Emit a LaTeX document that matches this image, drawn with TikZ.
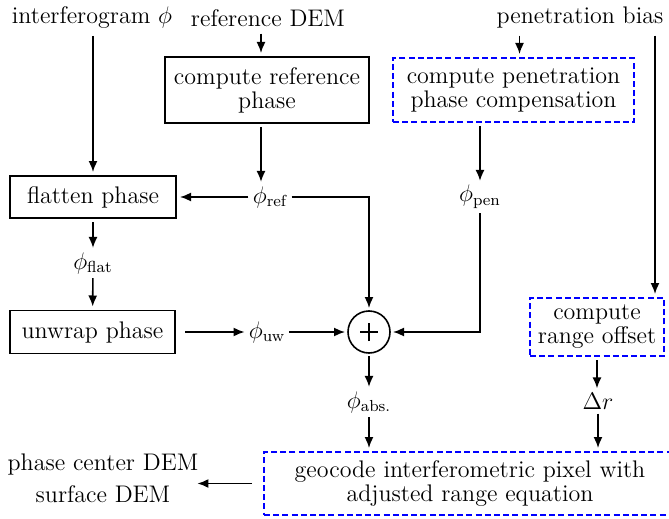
\documentclass[tikz,border=0pt]{standalone}
\usepackage{amsmath,amssymb}
\usepackage{tikz}
\usetikzlibrary{arrows.meta}

\tikzset{
  every node/.style={font={\fontsize{12pt}{12pt}\selectfont}},
  procbox/.style={draw,semithick,align=center,outer sep=2pt},
  newbox/.style={draw=blue,thick,dash pattern=on 3pt off 1.6pt,align=center,outer sep=2pt},
  signal/.style={inner sep=2pt},
  flow/.style={-{Latex[length=5.5pt,width=4.5pt]},thick},
  wire/.style={thick}
}

\begin{document}
\begin{tikzpicture}[x=0.5pt,y=-0.5pt]
    \useasboundingbox (0,0) rectangle (669,519);

    % inputs
    \node (ifg) at (92,18) {interferogram $\phi$};
    \node (dem) at (268,18) {reference DEM};
    \node (bias) at (580,18) {penetration bias};

    % processing boxes
    \node[procbox,minimum width=102pt,minimum height=33pt] (refbox) at (267,90) {compute reference\\phase};
    \node[newbox,minimum width=120.5pt,minimum height=32pt] (penbox) at (513.5,90) {compute penetration\\phase compensation};
    \node[procbox,minimum width=83pt,minimum height=21pt] (flat) at (93,197) {flatten phase};
    \node[procbox,minimum width=82.5pt,minimum height=21.5pt] (unwrap) at (92.5,332) {unwrap phase};
    \node[newbox,minimum width=67pt,minimum height=29pt] (rng) at (597,327) {compute\\range offset};
    \node[newbox,minimum width=206pt,minimum height=31.5pt] (geo) at (470,483.5) {geocode interferometric pixel with\\adjusted range equation};
    \node[align=center] (out) at (103,478) {phase center DEM\\[4pt]surface DEM};

    % signals
    \node[signal] (phiref) at (270,197) {$\phi_{\text{ref}}$};
    \node[signal] (phipen) at (480,197) {$\phi_{\text{pen}}$};
    \node[signal] (phiflat) at (93,263) {$\phi_{\text{flat}}$};
    \node[signal] (phiuw) at (267,332) {$\phi_{\text{uw}}$};
    \node[signal] (phiabs) at (369,402) {$\phi_{\text{abs.}}$};
    \node[signal] (dr) at (598,401) {$\Delta r$};

    % sum
    \node[circle,draw,thick,minimum size=21pt,outer sep=1.5pt] (sum) at (369,332) {};
    \draw[thick] ([xshift=-4.5pt]sum.center) -- ([xshift=4.5pt]sum.center)
                 ([yshift=-4.5pt]sum.center) -- ([yshift=4.5pt]sum.center);

    % connections
    \draw[flow] (flat.north |- ifg.south) -- (flat.north);
    \draw[flow] ([xshift=-3pt]refbox.north |- dem.south) -- ([xshift=-3pt]refbox.north);
    \draw[flow] ([xshift=-3pt]refbox.south) -- ([xshift=-3pt]refbox.south |- phiref.north);
    \draw[flow] (phiref) -- (flat);
    \draw[flow] (phiref) -| (sum);
    \draw[flow] ([xshift=3pt]penbox.north |- bias.south) -- ([xshift=3pt]penbox.north);
    \draw[flow] (penbox.south -| phipen.north) -- (phipen.north);
    \draw[flow] (phipen) |- (sum);
    \draw[flow] (flat) -- (phiflat);
    \draw[flow] (phiflat) -- (unwrap);
    \draw[flow,shorten <=3pt] (unwrap) -- (phiuw);
    \draw[flow] (phiuw) -- (sum);
    \draw[flow] (sum) -- (phiabs);
    \draw[flow] (phiabs) -- (geo.north -| phiabs);
    \coordinate (biasdrop) at ([xshift=-6.5pt]rng.north east);
    \draw[flow] (biasdrop |- bias.south) -- (biasdrop);
    \draw[flow] (rng) -- (rng.south |- dr.north);
    \draw[flow] (dr) -- (geo.north -| dr);
    \draw[flow,shorten <=4pt,shorten >=-4pt] (geo.west) -- (geo.west -| out.east);
\end{tikzpicture}
\end{document}
